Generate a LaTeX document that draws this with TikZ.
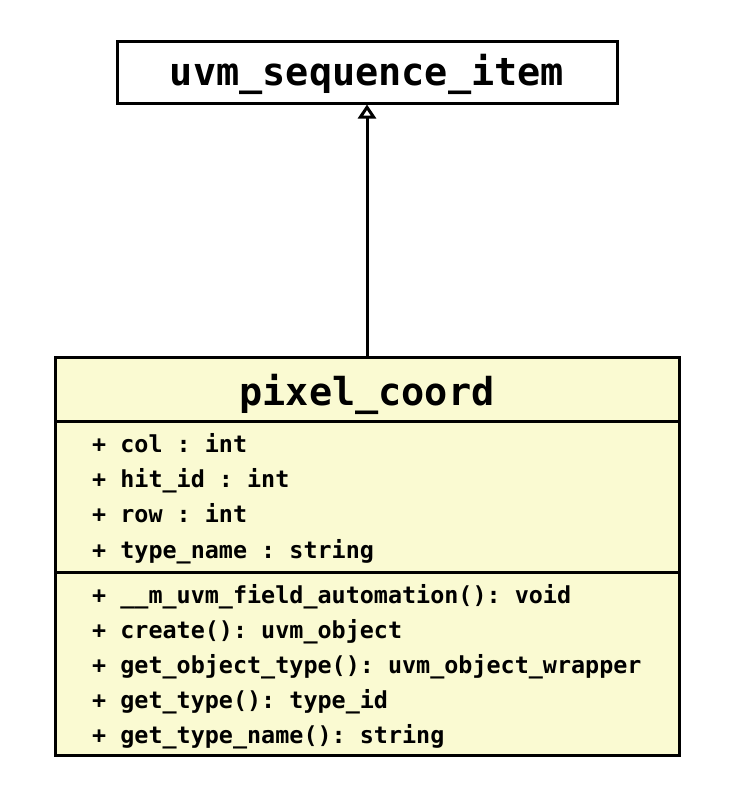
\documentclass[tikz,border=0pt]{standalone}
\usepackage{fontspec}
\setmonofont{DejaVu Sans Mono}
\usepackage{tikz}
\usetikzlibrary{positioning, arrows.meta}
\definecolor{UMLFill}{RGB}{250,250,210}
\definecolor{UMLLine}{RGB}{0,0,0}

\begin{document}
\begin{tikzpicture}[x=1pt, y=-1pt,
          box/.style={draw=UMLLine, line width=3pt, inner sep=0pt,
                      minimum width=624pt},
          ttl/.style={font=\fontsize{38.5}{40}\selectfont\ttfamily\bfseries},
          mbr/.style={anchor=base west, inner sep=0pt,
                      font=\fontsize{23.4}{26}\selectfont\ttfamily\bfseries}
        ]
        \useasboundingbox (0,0) rectangle (733,793);

        % parent class
        \node[box, minimum width=500pt, minimum height=62pt] (base)
              at (367,72) {};
        \node[ttl, anchor=base] (baseName) at (367,85) {uvm\_sequence\_item};

        % class pixel_coord: name, attributes, operations
        \node[box, fill=UMLFill, minimum height=64pt] (cls) at (367,389) {};
        \node[box, fill=UMLFill, minimum height=151pt] (attrs)
              at (367,496.5) {};
        \node[box, fill=UMLFill, minimum height=183pt] (ops)
              at (367,663.5) {};
        \node[ttl, anchor=base] (clsName) at (367,405) {pixel\_coord};

        \foreach \i/\y/\t in {
          a1/452/{+ col : int}, a2/487/{+ hit\_id : int},
          a3/522.5/{+ row : int}, a4/558/{+ type\_name : string}} {
          \node[mbr] (\i) at (92,\y) {\t};
        }
        \foreach \i/\y/\t in {
          o1/603/{+ \_\_m\_uvm\_field\_automation(): void},
          o2/638/{+ create(): uvm\_object},
          o3/673/{+ get\_object\_type(): uvm\_object\_wrapper},
          o4/708/{+ get\_type(): type\_id},
          o5/743/{+ get\_type\_name(): string}} {
          \node[mbr] (\i) at (92,\y) {\t};
        }

        % generalization
        \draw[line width=3pt,
              -{Triangle[open, length=14pt, width=18pt, line width=3pt]}]
              (cls.north) -- (base.south);
      \end{tikzpicture}
\end{document}
